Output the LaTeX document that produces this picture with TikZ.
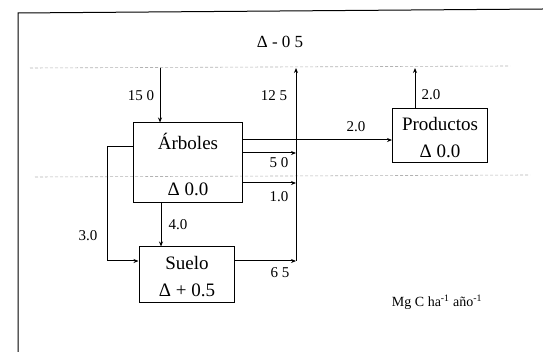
\documentclass[tikz,border=0pt]{standalone}
\usepackage{fontspec}
\setmainfont{Liberation Serif}
\usetikzlibrary{arrows.meta}
\begin{document}
\begin{tikzpicture}[x=1pt,y=-1pt,
  box/.style={draw,line width=1pt,inner sep=0pt},
  flow/.style={line width=1pt,-{Stealth[length=5pt,width=4pt]}},
  lbl/.style={font=\fontsize{15}{17}\selectfont,inner sep=0pt},
  btxt/.style={font=\fontsize{19}{21}\selectfont,inner sep=0pt},
  guide/.style={gray!60,line width=0.6pt,dash pattern=on 3pt off 2pt}]
\useasboundingbox (0,0) rectangle (543,352);
% frame
\draw[line width=1pt] (18,352) -- (18,13) -- (543,9);
% guide lines
\draw[guide] (30,68) -- (510,66);
\draw[guide] (35,177) -- (530,175);
% boxes
\node[box,minimum width=109pt,minimum height=80pt] (arb) at (187.5,163) {};
\node[btxt] (arbt) at (188,141) {Árboles};
\node[btxt] (arbd) at (188,189) {Δ 0.0};
\node[box,minimum width=95pt,minimum height=54pt] (prod) at (439.5,136) {};
\node[btxt] (prodt) at (440,124) {Productos};
\node[btxt] (prodd) at (440,151) {Δ 0.0};
\node[box,minimum width=95pt,minimum height=56pt] (sue) at (186.5,275) {};
\node[btxt] (suet) at (187,263) {Suelo};
\node[btxt] (sued) at (187,290) {Δ + 0.5};
% coordinates
\coordinate (in) at (160,68);
\coordinate (top) at (296,68);
\coordinate (ptop) at (415,68);
\coordinate (jn) at (296,261);
\coordinate (j2) at (392,140);
\coordinate (j5) at (296,153);
\coordinate (j1) at (296,183);
% flows
\draw[flow] (in) -- (in |- arb.north);
\draw[flow] (jn) -- (top);
\draw[flow] (prod.north -| ptop) -- (ptop);
\draw[flow] (arb.east |- j2) -- (j2);
\draw[flow] (arb.east |- j5) -- (j5);
\draw[flow] (arb.east |- j1) -- (j1);
\draw[flow] (arb.south -| 161,0) -- (sue.north -| 161,0);
\draw[flow] (arb.west |- 0,147) -- (107,147) -- (107,261) -- (sue.west |- 0,261);
\draw[flow] (sue.east |- jn) -- (jn);
% labels
\node[font=\fontsize{17}{19}\selectfont] (dtot) at (280,42) {Δ - 0 5};
\node[lbl] (l150) at (141,96) {15 0};
\node[lbl] (l125) at (274,96) {12 5};
\node[lbl] (l20b) at (431,95) {2.0};
\node[lbl] (l20) at (356,127) {2.0};
\node[lbl] (l50) at (279,163) {5 0};
\node[lbl] (l10) at (279,197) {1.0};
\node[lbl] (l40) at (178,225) {4.0};
\node[lbl] (l30) at (88,236) {3.0};
\node[lbl] (l65) at (280,273) {6 5};
\node[lbl,font=\fontsize{14}{16}\selectfont] (unit) at (437,302) {Mg C ha\textsuperscript{-1} año\textsuperscript{-1}};
\end{tikzpicture}
\end{document}
